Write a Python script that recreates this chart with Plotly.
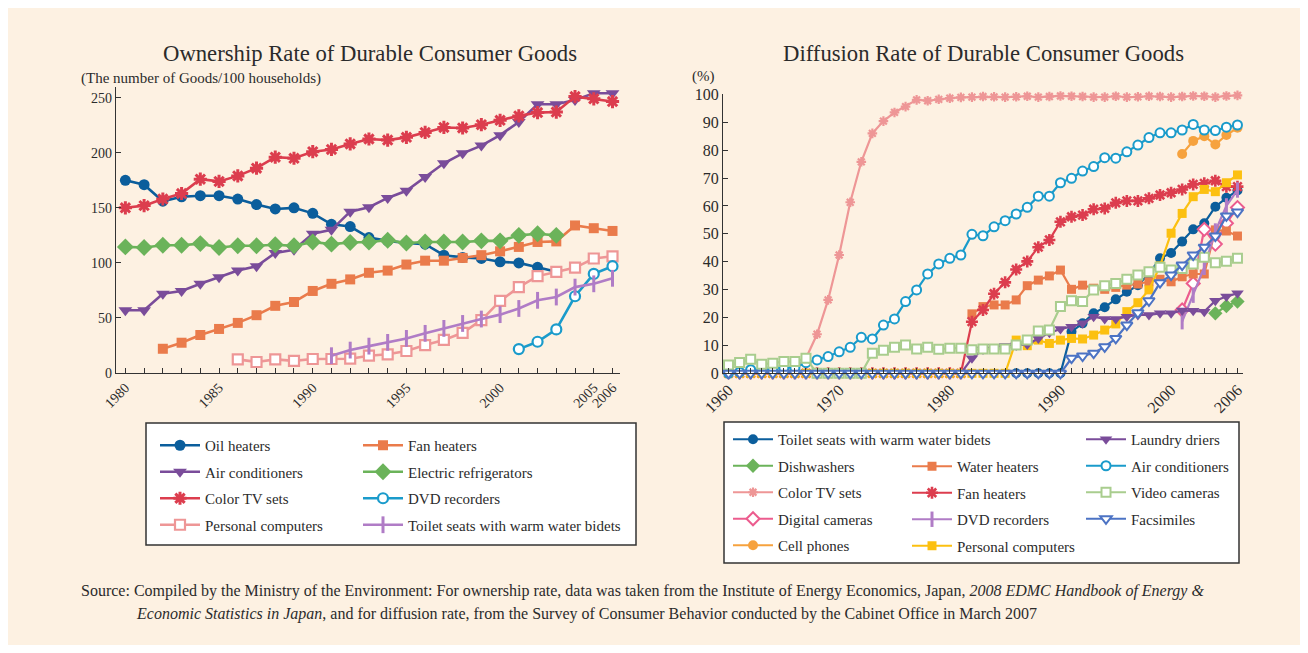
import plotly.graph_objects as go

W, H = 1292, 637
OX, OY = 8, 8  # page offset of the figure in the screenshot

# ---------------- Ownership rate (goods / 100 households) ----------------
own_tick_years = list(range(1980, 2007))
own_tick_labels = ["1980", "1985", "1990", "1995", "2000", "2005", "2006"]

oil_heaters_start = 1980
oil_heaters = [175, 171, 156, 160, 161, 161, 158, 153, 149, 150, 145, 135, 133, 123,
               120, 118, 117, 107, 105, 104, 101, 100, 96, 92]
fan_heaters_start = 1982
fan_heaters = [22, 27.5, 34.5, 40, 45.5, 52.5, 61, 64.5, 74.5, 81, 85, 91, 93, 98.5, 102,
               102, 104.5, 107, 110.5, 114.5, 119, 119.5, 134, 131.5, 129]
air_cond_start = 1980
air_cond = [57, 57, 72, 74.5, 81, 87, 93, 97, 109, 112, 126.5, 130, 146.5, 150.5, 159,
            165.5, 178, 190.5, 199.5, 206.5, 216, 228, 244, 244, 248, 254, 254]
refrig_start = 1980
refrig = [114.5, 114, 116, 116, 117.5, 114, 115.5, 115.5, 116.5, 115.5, 119, 117, 118.5,
          119, 120.5, 118, 119, 119, 119, 120, 120, 125, 126.5, 125]
color_tv_start = 1980
color_tv = [150, 152, 158, 163, 176, 174, 179, 186, 196, 195, 201, 203, 208, 212.5, 211.5,
            214, 218.5, 223, 222.5, 225.5, 229.5, 233.5, 236.5, 237, 251, 249, 246.5]
dvd_own_start = 2001
dvd_own = [21.7, 28.4, 39.6, 69.7, 90, 97]
pc_own_start = 1986
pc_own = [12.4, 10, 12.4, 11, 12.7, 12.7, 13, 15.7, 17, 20, 25.4, 30, 36.5, 48, 65.5, 78,
          88, 91.8, 95.7, 104, 106]
bidet_own_start = 1991
bidet_own = [15.7, 20.8, 24.4, 27.8, 31.4, 36, 40.5, 45, 49, 53, 58.6, 66, 69, 78, 81, 86]

# ---------------- Diffusion rate (%) ----------------
dif_tick_years = list(range(1960, 2007))
dif_tick_labels = ["1960", "1970", "1980", "1990", "2000", "2006"]

bidet_dif_start = 1986
bidet_dif = [0, 0, 0, 0, 0, 14.9, 17.9, 21.5, 23.7, 26.5, 29.2, 31.6, 35.6, 41.2, 43.1,
             47.2, 51.6, 53.8, 59.7, 62.9, 65.5]
drier_start = 1981
drier = [0, 5.4, 8.5, 9.5, 9.8, 10.0, 10.3, 12.5, 14.5, 15.9, 16.7, 17.9, 20.3, 19.5, 19.5,
         20.3, 20.9, 20.9, 21.5, 21.5, 22.5, 22.4, 22.1, 26.0, 27.5, 28.7]
dishwasher_start = 2004
dishwasher = [21.5, 24.1, 25.7]
water_heater_start = 1982
water_heater = [21.3, 23.9, 24.5, 24.5, 26.3, 31.4, 33.4, 34.9, 37.0, 30.1, 31.6, 30.5, 30.1,
                30.8, 31.6, 32.0, 32.8, 33.7, 32.8, 34.6, 35.6, 35.6, 51.4, 51.0, 49.2]
aircon_dif_start = 1960
aircon_dif = [0, 0.4, 1.3, 1.0, 1.7, 2.0, 2.0, 3.8, 4.8, 6.0,
              7.7, 9.3, 12.9, 12.3, 17.3, 19.5, 25.7, 29.9, 35.6, 39.2,
              41.2, 42.4, 49.8, 49.3, 52.5, 54.7, 57.1, 59.5, 63.5, 63.5,
              68.3, 69.9, 72.5, 74.1, 77.3, 77.1, 79.4, 81.8, 84.5, 86.2,
              86.2, 87.2, 89.2, 87.2, 87.0, 88.2, 89.0]
tv_dif_start = 1960
tv_dif = [0, 0, 0, 0, 0, 0.3, 1.6, 5.4, 14.0, 26.3,
          42.4, 61.3, 75.8, 86.0, 90.4, 93.5, 95.6, 98.0, 97.7, 98.2,
          98.6, 98.9, 99.0, 99.2, 99.1, 99.0, 99.1, 99.3, 99.0, 99.2,
          99.4, 99.3, 99.2, 99.0, 99.0, 99.3, 99.0, 99.1, 99.3, 99.2,
          99.0, 99.2, 99.4, 99.3, 99.0, 99.4, 99.6]
fan_dif_start = 1960
fan_dif = [0] * 22 + [18.5, 22.7, 28.5, 32.6, 37.2, 40.1, 45.2, 47.8, 54.3, 56.1, 56.7,
                      58.8, 59.1, 61.1, 61.8, 61.8, 62.7, 63.9, 64.7, 65.9, 67.7, 68.1,
                      69.0, 66.9, 66.9]
video_start = 1960
video = [3.0, 3.9, 5.0, 3.2, 3.6, 4.2, 4.2, 5.4, 0, 0,
         0, 0, 0, 7.2, 8.3, 9.3, 10.1, 8.7, 9.3, 8.6,
         9.0, 9.0, 8.4, 8.7, 8.7, 8.7, 10.1, 11.9, 15.2, 15.5,
         23.9, 26.0, 25.7, 29.9, 31.4, 32.2, 33.7, 35.2, 36.4, 38.0,
         37.0, 37.6, 39.2, 41.6, 39.6, 40.2, 41.2]
digicam_start = 2001
digicam = [22.7, 32.2, 51.6, 46.3, 53.8, 59.4]
dvd_dif_start = 2001
dvd_dif = [18.5, 28.0, 38.0, 51.0, 60.0, 65.7]
fax_start = 1960
fax = [0] * 31 + [5.4, 6.2, 7.2, 9.5, 12.5, 17.3, 21.7, 26.0, 32.5, 35.2, 38.8, 42.4,
                  45.2, 49.2, 56.4, 57.8]
cell_start = 2001
cell = [78.6, 83.3, 85.0, 82.0, 85.4, 88.0]
pc_dif_start = 1960
pc_dif = [0] * 26 + [11.9, 9.9, 11.9, 10.7, 11.9, 12.5, 12.3, 13.7, 15.5, 17.7, 22.1,
                     25.3, 29.9, 38.5, 50.2, 57.3, 63.3, 65.9, 65.1, 68.3, 71.1]

# ---------------- styling ----------------
FONT = "Liberation Serif"
TXT = "#2b2b2b"
BG = "#FDF1E2"

C_NAVY = "#0B5E9C"
C_ORANGE = "#EA7B4B"
C_PURPLE = "#7A4C9A"
C_GREEN = "#6BB35A"
C_RED = "#DC3D4E"
C_CYAN = "#1A9BCB"
C_PINK = "#EE9696"
C_LILAC = "#B07CC6"
C_LGREEN = "#A9CD8E"
C_MAGENTA = "#EC5C8E"
C_BLUE = "#4C73C4"
C_AMBER = "#F6A23E"
C_YELLOW = "#FCC010"


def yrs(start, vals):
    return list(range(start, start + len(vals)))


def marker(sym, color, size, filled=True, lw=2):
    if filled:
        return dict(symbol=sym, color=color, size=size, line=dict(width=0))
    return dict(symbol=sym, color="white", size=size, line=dict(color=color, width=lw))


fig = go.Figure()


def add(name, start, vals, color, mk, legend, axes, lw):
    xa, ya = axes
    fig.add_trace(go.Scatter(
        x=yrs(start, vals), y=vals, name=name, mode="lines+markers",
        line=dict(color=color, width=lw), marker=mk, cliponaxis=False,
        xaxis=xa, yaxis=ya, legend=legend, legendgroup=legend + name,
        hoverinfo="skip"))


L = ("x", "y")
R = ("x2", "y2")
lw1 = 2.6
# left chart, column 1
add("Oil heaters", oil_heaters_start, oil_heaters, C_NAVY, marker("circle", C_NAVY, 11), "legend", L, lw1)
add("Air conditioners", air_cond_start, air_cond, C_PURPLE, marker("triangle-down", C_PURPLE, 12), "legend", L, lw1)
add("Color TV sets", color_tv_start, color_tv, C_RED,
    dict(symbol="asterisk-open", size=11, color=C_RED, line=dict(color=C_RED, width=3)), "legend", L, lw1)
add("Personal computers", pc_own_start, pc_own, C_PINK, marker("square", C_PINK, 10, False, 2.2), "legend", L, lw1)
# left chart, column 2
add("Fan heaters", fan_heaters_start, fan_heaters, C_ORANGE, marker("square", C_ORANGE, 10), "legend2", L, lw1)
add("Electric refrigerators", refrig_start, refrig, C_GREEN, marker("diamond", C_GREEN, 13), "legend2", L, lw1)
add("DVD recorders", dvd_own_start, dvd_own, C_CYAN, marker("circle", C_CYAN, 10, False, 2.2), "legend2", L, lw1)
add("Toilet seats with warm water bidets", bidet_own_start, bidet_own, C_LILAC,
    dict(symbol="line-ns-open", size=12, color=C_LILAC, line=dict(color=C_LILAC, width=3)), "legend2", L, lw1)

lw2 = 2.2
# right chart, column 1
add("Toilet seats with warm water bidets", bidet_dif_start, bidet_dif, C_NAVY, marker("circle", C_NAVY, 10), "legend3", R, lw2)
add("Dishwashers", dishwasher_start, dishwasher, C_GREEN, marker("diamond", C_GREEN, 11), "legend3", R, lw2)
add("Color TV sets", tv_dif_start, tv_dif, C_PINK,
    dict(symbol="asterisk-open", size=8, color=C_PINK, line=dict(color=C_PINK, width=2.2)), "legend3", R, lw2)
add("Digital cameras", digicam_start, digicam, C_MAGENTA, marker("diamond", C_MAGENTA, 10, False, 2), "legend3", R, lw2)
add("Cell phones", cell_start, cell, C_AMBER, marker("circle", C_AMBER, 10), "legend3", R, lw2)
# right chart, column 2
add("Water heaters", water_heater_start, water_heater, C_ORANGE, marker("square", C_ORANGE, 9), "legend4", R, lw2)
add("Fan heaters", fan_dif_start, fan_dif, C_RED,
    dict(symbol="asterisk-open", size=10, color=C_RED, line=dict(color=C_RED, width=2.6)), "legend4", R, lw2)
add("DVD recorders", dvd_dif_start, dvd_dif, C_LILAC,
    dict(symbol="line-ns-open", size=11, color=C_LILAC, line=dict(color=C_LILAC, width=3)), "legend4", R, lw2)
add("Personal computers", pc_dif_start, pc_dif, C_YELLOW, marker("square", C_YELLOW, 9), "legend4", R, lw2)
# right chart, column 3
add("Laundry driers", drier_start, drier, C_PURPLE, marker("triangle-down", C_PURPLE, 11), "legend5", R, lw2)
add("Air conditioners", aircon_dif_start, aircon_dif, C_CYAN, marker("circle", C_CYAN, 9, False, 2), "legend5", R, lw2)
add("Video cameras", video_start, video, C_LGREEN, marker("square", C_LGREEN, 9, False, 2), "legend5", R, lw2)
add("Facsimiles", fax_start, fax, C_BLUE, marker("triangle-down", C_BLUE, 10, False, 2), "legend5", R, lw2)


def px(x):
    return (x - OX) / W


def py(y):
    return 1 - (y - OY) / H


def legend_at(x, y):
    return dict(x=px(x), y=py(y), xanchor="left", yanchor="top", orientation="v",
                bgcolor="rgba(0,0,0,0)", borderwidth=0, traceorder="grouped",
                tracegroupgap=4, itemwidth=40, itemclick=False, itemdoubleclick=False,
                font=dict(family=FONT, size=15, color=TXT))


axis_common = dict(showline=True, linecolor="#333", linewidth=1.2, ticks="inside",
                   ticklen=5, tickcolor="#333", showgrid=False, zeroline=False,
                   fixedrange=True, automargin=False)

fig.update_layout(
    width=W, height=H, margin=dict(l=0, r=0, t=0, b=0, pad=0, autoexpand=False),
    paper_bgcolor=BG, plot_bgcolor="rgba(0,0,0,0)", showlegend=True,
    xaxis=dict(domain=[px(116), px(620)], range=[1979.5, 2006.4], anchor="y",
               tickvals=own_tick_years,
               ticktext=[str(v) if str(v) in own_tick_labels else "" for v in own_tick_years],
               tickangle=-45, tickfont=dict(family=FONT, size=14, color=TXT), **axis_common),
    yaxis=dict(domain=[py(373), py(86.7)], range=[0, 260], anchor="x",
               tickvals=[0, 50, 100, 150, 200, 250],
               tickfont=dict(family=FONT, size=14, color=TXT), **axis_common),
    xaxis2=dict(domain=[px(723), px(1243)], range=[1959.5, 2006.5], anchor="y2",
                tickvals=dif_tick_years,
                ticktext=[str(v) if str(v) in dif_tick_labels else "" for v in dif_tick_years],
                tickangle=-45, tickfont=dict(family=FONT, size=16, color=TXT), **axis_common),
    yaxis2=dict(domain=[py(373.3), py(94.3)], range=[0, 100], anchor="x2",
                tickvals=list(range(0, 101, 10)),
                tickfont=dict(family=FONT, size=16, color=TXT), **axis_common),
    legend=legend_at(155, 429),
    legend2=legend_at(358, 429),
    legend3=legend_at(728, 423),
    legend4=legend_at(907, 450),
    legend5=legend_at(1081, 423),
    shapes=[
        dict(type="rect", xref="paper", yref="paper", x0=px(146), x1=px(636), y0=py(545), y1=py(423),
             fillcolor="white", line=dict(color="#333", width=1.5), layer="below"),
        dict(type="rect", xref="paper", yref="paper", x0=px(724), x1=px(1239), y0=py(563), y1=py(422),
             fillcolor="white", line=dict(color="#333", width=1.5), layer="below"),
    ],
    annotations=[
        dict(text="Ownership Rate of Durable Consumer Goods", x=px(370), y=py(53), xref="paper",
             yref="paper", showarrow=False, xanchor="center", yanchor="middle",
             font=dict(family=FONT, size=22.7, color=TXT)),
        dict(text="Diffusion Rate of Durable Consumer Goods", x=px(983), y=py(53), xref="paper",
             yref="paper", showarrow=False, xanchor="center", yanchor="middle",
             font=dict(family=FONT, size=22.7, color=TXT)),
        dict(text="(The number of Goods/100 households)", x=px(79), y=py(78), xref="paper",
             yref="paper", showarrow=False, xanchor="left", yanchor="middle",
             font=dict(family=FONT, size=15, color=TXT)),
        dict(text="(%)", x=px(690), y=py(76), xref="paper", yref="paper", showarrow=False,
             xanchor="left", yanchor="middle", font=dict(family=FONT, size=15, color=TXT)),
        dict(text="Source: Compiled by the Ministry of the Environment: For ownership rate, data was "
                  "taken from the Institute of Energy Economics, Japan, <i>2008 EDMC Handbook of Energy &amp;</i>",
             x=px(79), y=py(591), xref="paper", yref="paper", showarrow=False, xanchor="left",
             yanchor="middle", font=dict(family=FONT, size=16, color=TXT)),
        dict(text="<i>Economic Statistics in Japan</i>, and for diffusion rate, from the Survey of "
                  "Consumer Behavior conducted by the Cabinet Office in March 2007",
             x=px(134), y=py(614), xref="paper", yref="paper", showarrow=False, xanchor="left",
             yanchor="middle", font=dict(family=FONT, size=16, color=TXT)),
    ],
)

fig.write_html("out.html")
